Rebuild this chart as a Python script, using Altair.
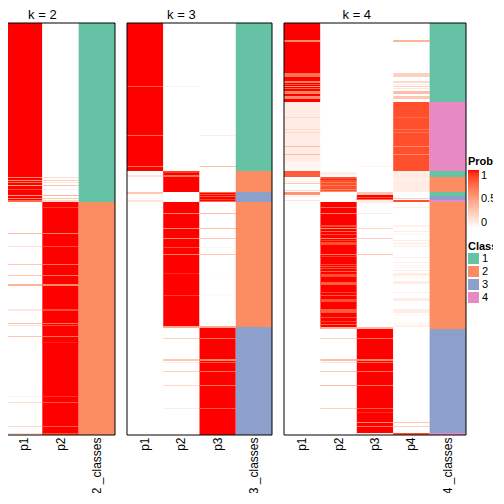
import altair as alt
import pandas as pd

FONT = "Liberation Sans"
N_ROWS = 412
CLASS_COLORS = ["#66C2A5", "#FC8D62", "#8DA0CB", "#E78AC3"]
CLASS_LEVELS = ["1", "2", "3", "4"]

# Each column: (first row, end row, probability); later entries lie over earlier ones.
K2_P1 = [(0,179,1),(179,412,0),(154,155,.6),(157,158,.55),(159,160,.7),(162,163,.5),(166,167,.85),
         (172,173,.5),(175,176,.6),(177,179,.75),(184,185,.03),(210,211,.35),(223,224,.15),(241,242,.3),
         (252,253,.3),(261,263,.4),(286,288,.12),(300,301,.3),(302,303,.15),(313,314,.3),(319,320,.03),
         (373,374,.08),(379,380,.18),(403,404,.2),(410,412,.15)]
K2_P2 = [(0,179,0),(179,412,1),(154,155,.2),(157,158,.25),(159,160,.15),(162,163,.3),(166,167,.08),
         (172,173,.4),(175,176,.3),(177,179,.2),(184,185,.9),(210,211,.65),(223,224,.85),(241,242,.7),
         (252,253,.7),(261,263,.6),(286,288,.85),(300,301,.7),(302,303,.85),(313,314,.7),(319,320,.97),
         (373,374,.92),(379,380,.82),(403,404,.8),(410,412,.85)]
K2_CLASS = [(0,179,"1"),(179,412,"2")]

K3_P1 = [(0,148,1),(148,412,0),(63,64,.8),(112,113,.75),(143,144,.7),(152,154,.15),(169,171,.3),
         (175,176,.05),(177,179,.15)]
K3_P2 = [(0,148,0),(148,169,1),(169,179,0),(179,304,1),(304,412,0),(63,64,.08),(148,150,.9),(152,154,.7),
         (190,191,.65),(205,206,.6),(215,216,.6),(224,225,.85),(231,232,.65),(250,251,.95),(272,273,.9),
         (303,305,.45),(315,316,.25),(336,338,.3),(339,340,.1),(348,349,.25),(362,363,.2),(385,386,.1)]
K3_P3 = [(0,169,0),(169,179,1),(179,305,0),(305,412,1),(112,113,.1),(143,144,.35),(169,170,.75),
         (171,172,.85),(173,174,.8),(176,177,.9),(178,179,.75),(190,191,.35),(205,206,.35),(215,216,.3),
         (224,225,.05),(231,232,.3),(250,251,.02),(272,273,.03),(303,305,.45),(315,316,.7),(336,338,.6),
         (339,340,.8),(348,349,.7),(362,363,.7),(385,386,.8)]
K3_CLASS = [(0,148,"1"),(148,169,"2"),(169,179,"3"),(179,304,"2"),(304,412,"3")]

K4_P1 = [(0,79,1),(79,148,.1),(148,154,.8),(154,412,0),(17,19,.6),(50,54,.7),(58,60,.65),(61,62,.85),
         (63,64,.55),(65,66,.75),(68,71,.65),(73,76,.6),(94,95,.2),(106,107,.2),(109,110,.2),(123,124,.35),
         (131,132,.35),(138,143,.06),(143,148,.05),(156,157,.05),(158,159,.12),(160,161,.3),(167,168,.2),
         (169,172,.55),(173,174,.08),(177,178,.15)]
K4_P2 = [(0,154,0),(154,169,.85),(169,179,0),(179,306,1),(306,412,0),(149,152,.1),(156,157,.95),
         (159,160,.7),(162,163,.65),(166,167,.65),(168,169,.6),(184,185,.75),(190,191,.65),(202,204,.85),
         (205,206,.55),(208,209,.75),(211,212,.85),(215,216,.6),(217,218,.9),(219,222,.85),(231,232,.65),
         (233,234,.9),(241,242,.85),(243,244,.8),(245,246,.85),(248,249,.75),(251,254,.85),(259,262,.8),
         (269,270,.9),(272,273,.8),(276,279,.85),(286,290,.8),(294,295,.85),(298,299,.9),(301,302,.75),
         (304,306,.4),(315,316,.25),(336,338,.35),(339,340,.15),(348,349,.3),(362,363,.35),(385,386,.25)]
K4_P3 = [(0,169,0),(169,172,.3),(172,177,1),(177,180,.1),(180,306,0),(306,412,1),(143,144,.05),(174,175,.85),
         (176,177,.75),(190,191,.1),(205,206,.22),(215,216,.25),(223,224,.02),(231,232,.3),(304,306,.35),
         (315,316,.7),(336,338,.6),(339,340,.75),(348,349,.7),(362,363,.7),(385,386,.8),(389,390,.95),
         (399,400,.6),(403,404,.7),(410,412,.1)]
K4_P4 = [(0,79,0),(79,148,.85),(148,169,.1),(169,412,0),(17,19,.4),(50,54,.25),(58,60,.2),(61,62,.1),
         (63,64,.25),(65,66,.15),(68,71,.35),(73,76,.3),(94,95,.75),(106,107,.7),(109,110,.7),(123,124,.6),
         (131,132,.6),(156,157,.06),(175,176,.25),(177,179,.85),(184,185,.1),(202,204,.08),(208,209,.1),
         (211,212,.06),(217,218,.1),(219,222,.06),(223,224,.1),(234,235,.08),(239,240,.08),(242,243,.05),
         (244,245,.06),(247,248,.08),(250,253,.1),(254,255,.05),(258,261,.1),(269,270,.08),(275,278,.1),
         (286,290,.1),(291,292,.05),(300,301,.08),(302,304,.08),(399,400,.3),(403,404,.25),(410,412,.85)]
K4_CLASS = [(0,79,"1"),(79,148,"4"),(148,154,"1"),(154,169,"2"),(169,173,"1"),(173,177,"3"),(177,179,"4"),
            (179,306,"2"),(306,410,"3"),(410,412,"4")]

PANELS = [
    ("k = 2", ["p1","p2"], [K2_P1,K2_P2], "2 _classes", K2_CLASS, 109),
    ("k = 3", ["p1","p2","p3"], [K3_P1,K3_P2,K3_P3], "3 _classes", K3_CLASS, 145),
    ("k = 4", ["p1","p2","p3","p4"], [K4_P1,K4_P2,K4_P3,K4_P4], "4 _classes", K4_CLASS, 182),
]

y_scale = alt.Scale(domain=[0, N_ROWS], reverse=True, nice=False, zero=False)


def panel(title, names, cols, class_name, klass, width):
    prob = pd.DataFrame(
        [{"col": n, "start": s, "end": e, "p": v} for n, c in zip(names, cols) for s, e, v in c]
    )
    cls = pd.DataFrame([{"col": class_name, "start": s, "end": e, "Class": v} for s, e, v in klass])
    order = names + [class_name]
    x = alt.X(
        "col:N",
        sort=order,
        scale=alt.Scale(domain=order, paddingInner=0, paddingOuter=0),
        axis=alt.Axis(title=None, labelAngle=270, labelAlign="right", labelBaseline="middle",
                      ticks=False, domain=False, labelPadding=2, labelFontSize=12, labelFont=FONT,
                      labelColor="#000000", labelLimit=100),
    )
    y = alt.Y("start:Q", scale=y_scale, axis=None)
    a = alt.Chart(prob).mark_rect().encode(
        x=x, y=y, y2="end:Q",
        color=alt.Color(
            "p:Q",
            scale=alt.Scale(domain=[0, 1], range=["#FFFFFF", "#FF0000"], interpolate="lab"),
            legend=alt.Legend(title="Prob", values=[0, 0.5, 1], orient="none", legendX=462, legendY=133,
                              gradientLength=58, gradientThickness=11, titleFont=FONT, titleFontSize=11,
                              titleFontWeight="bold", labelFont=FONT, labelFontSize=11, titlePadding=3,
                              format=".1~f", labelOffset=2),
        ),
    )
    b = alt.Chart(cls).mark_rect().encode(
        x=x, y=y, y2="end:Q",
        fill=alt.Fill(
            "Class:N",
            scale=alt.Scale(domain=CLASS_LEVELS, range=CLASS_COLORS),
            legend=alt.Legend(title="Class", orient="none", legendX=462, legendY=218, symbolType="square",
                              symbolSize=121, symbolStrokeWidth=0, titleFont=FONT, titleFontSize=11,
                              titleFontWeight="bold", labelFont=FONT, labelFontSize=11, rowPadding=1,
                              titlePadding=1, labelOffset=3),
        ),
    )
    frame = alt.Chart(pd.DataFrame({"f": [0]})).mark_rect(filled=False, stroke="#000000", strokeWidth=1).encode(
        x=alt.value(0), x2=alt.value(width), y=alt.value(0), y2=alt.value(N_ROWS)
    )
    return alt.layer(a, b, frame).properties(
        width=width,
        height=N_ROWS,
        title=alt.TitleParams(title, font=FONT, fontSize=13, fontWeight="normal", anchor="middle",
                              dx=-width / (len(names) + 1) / 2, offset=1, color="#000000"),
    )


chart = (
    alt.hconcat(*[panel(*p) for p in PANELS], spacing=10)
    .resolve_scale(color="shared", fill="shared")
    .properties(padding={"left": -3, "top": 0, "right": -5, "bottom": -1})
    .configure_view(stroke=None)
)

chart.save("out.html", embed_options={"renderer": "svg", "actions": False})
